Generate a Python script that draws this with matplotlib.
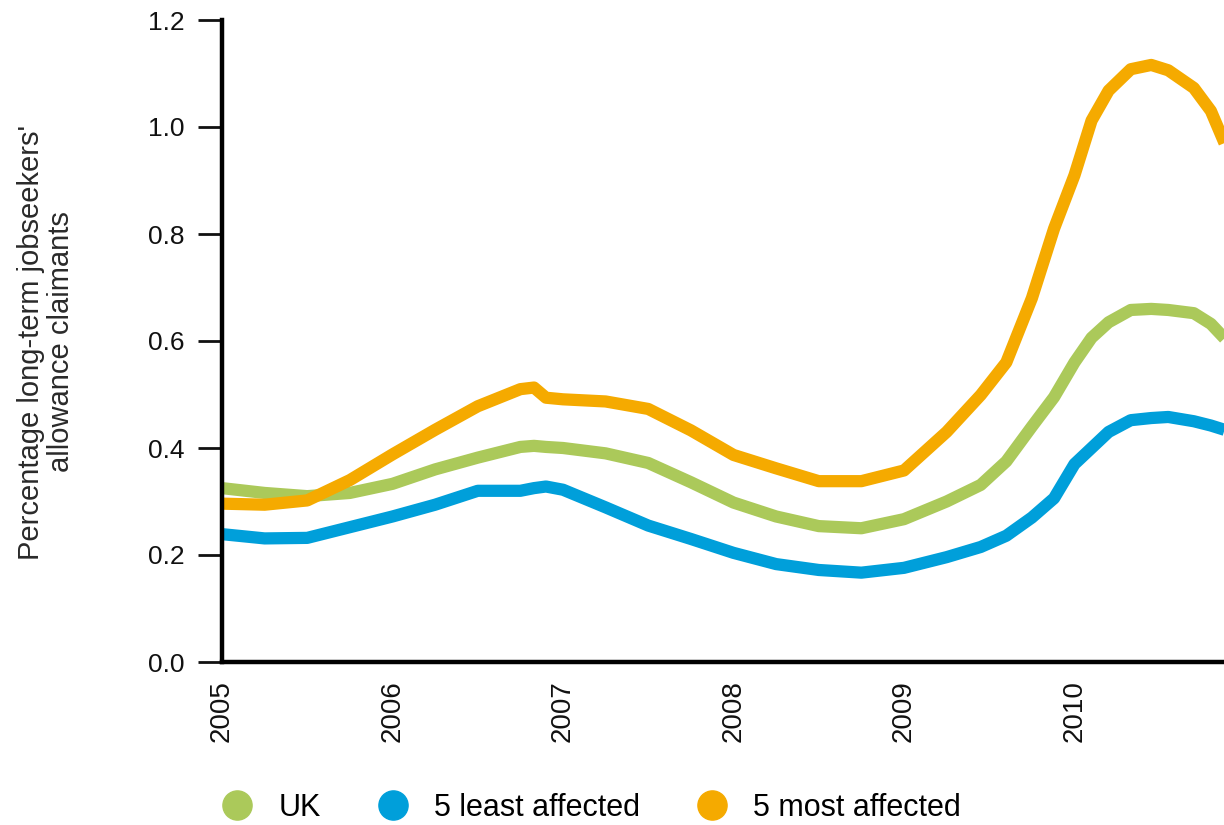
import numpy as np
import matplotlib; matplotlib.use("Agg")
import matplotlib.pyplot as plt
from matplotlib.lines import Line2D
from matplotlib import font_manager as fm

# decimal years
years = [2005.0, 2005.25, 2005.5, 2005.75, 2006.0, 2006.25, 2006.5, 2006.75, 2006.83, 2006.9,
         2007.0, 2007.25, 2007.5, 2007.75, 2008.0, 2008.25, 2008.5, 2008.75, 2009.0, 2009.25,
         2009.45, 2009.6, 2009.75, 2009.88, 2010.0, 2010.1, 2010.2, 2010.33, 2010.45, 2010.55,
         2010.7, 2010.8, 2010.88]
uk = [0.325, 0.316, 0.310, 0.316, 0.333, 0.360, 0.382, 0.402, 0.404, 0.402,
      0.400, 0.390, 0.372, 0.336, 0.298, 0.272, 0.254, 0.250, 0.267, 0.300,
      0.331, 0.375, 0.440, 0.495, 0.560, 0.606, 0.635, 0.658, 0.660, 0.658,
      0.652, 0.632, 0.605]
least = [0.239, 0.231, 0.232, 0.252, 0.272, 0.294, 0.320, 0.320, 0.325, 0.328,
         0.322, 0.289, 0.255, 0.230, 0.204, 0.183, 0.172, 0.167, 0.176, 0.196,
         0.215, 0.236, 0.270, 0.306, 0.370, 0.400, 0.430, 0.452, 0.456, 0.458,
         0.450, 0.442, 0.434]
most = [0.296, 0.294, 0.302, 0.340, 0.388, 0.434, 0.478, 0.510, 0.513, 0.494,
        0.491, 0.487, 0.473, 0.433, 0.387, 0.362, 0.338, 0.338, 0.358, 0.430,
        0.499, 0.560, 0.680, 0.810, 0.910, 1.012, 1.068, 1.108, 1.116, 1.106,
        1.073, 1.030, 0.970]
series = ["UK", "5 least affected", "5 most affected"]
colors = ["#ABC95A", "#009FDA", "#F5AA00"]
xticks = [2005, 2006, 2007, 2008, 2009, 2010]
yticks = [0.0, 0.2, 0.4, 0.6, 0.8, 1.0, 1.2]

names = {f.name for f in fm.fontManager.ttflist}
narrow = "Liberation Sans Narrow" in names
plt.rcParams["font.family"] = ["Liberation Sans", "DejaVu Sans"]

fig = plt.figure(figsize=(12.24, 8.25), dpi=100)
ax = fig.add_axes([222/1224, 1-662/825, 1-222/1224, (662-20)/825])
for ys, c in zip([uk, least, most], colors):
    ax.plot(years, ys, color=c, lw=8.8, solid_capstyle="butt", solid_joinstyle="round")

ax.set_xlim(2005, 2005 + (1224-222)/170.5); ax.set_ylim(0, 1.2)
for s in ["top", "right"]: ax.spines[s].set_visible(False)
for s in ["left", "bottom"]: ax.spines[s].set_linewidth(3.2)
ax.set_yticks(yticks); ax.set_yticklabels([f"{v:.1f}" for v in yticks])
ax.set_xticks(xticks); ax.set_xticklabels([str(v) for v in xticks], rotation=90)
ax.tick_params(axis="y", length=17, width=2, pad=10, labelsize=19, colors="#111")
ax.tick_params(axis="x", length=0, pad=13, labelsize=20, colors="#111")

fig.text(46/1224, 1-342/825, "Percentage long-term jobseekers'\nallowance claimants",
         rotation=90, ha="center", va="center", multialignment="center",
         fontsize=21, color="#2a2a2a", linespacing=1.05)

handles = [Line2D([], [], ls="none", marker="o", ms=21, color=c) for c in colors]
lf = {"family": "Liberation Sans Narrow" if narrow else "Liberation Sans",
      "size": 26 if narrow else 22}
fig.legend(handles, series, loc="center left", bbox_to_anchor=(225/1224, 1-808/825),
           ncol=3, frameon=False, prop=lf, handlelength=0.8, handletextpad=0.95,
           columnspacing=1.95, borderpad=0, borderaxespad=0)

fig.savefig("out.png", dpi=100)
